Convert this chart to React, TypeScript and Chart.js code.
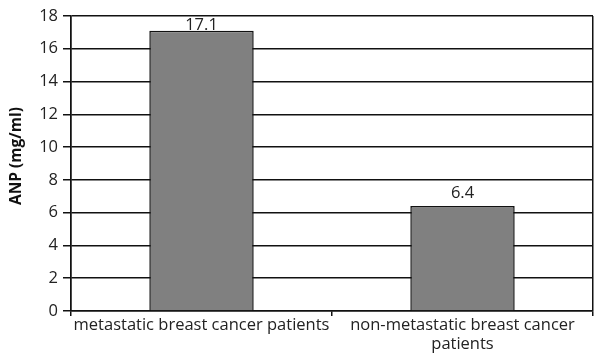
import React, { useEffect, useRef } from "react";
import { Chart, registerables } from "chart.js";

Chart.register(...registerables);

const categories: (string | string[])[] = [
  "metastatic breast cancer patients",
  ["non-metastatic breast cancer", "patients"],
];
const anpValues = [17.1, 6.4];
const yMin = 0;
const yMax = 18;
const yStep = 2;
const yTitle = "ANP (mg/ml)";

const FONT = "'Open Sans', sans-serif";

// Writes each bar's value above its top edge (kept inside the plot area),
// and the rotated y-axis title.
const annotations = {
  id: "annotations",
  afterDatasetsDraw(chart: any) {
    const { ctx, chartArea } = chart;
    const meta = chart.getDatasetMeta(0);
    ctx.save();
    ctx.font = `16.5px ${FONT}`;
    ctx.fillStyle = "#222";
    ctx.textAlign = "center";
    ctx.textBaseline = "alphabetic";
    meta.data.forEach((bar: any, i: number) => {
      const baseline = Math.max(bar.y - 8, chartArea.top + 14);
      ctx.fillText(String(chart.data.datasets[0].data[i]), bar.x, baseline);
    });
    ctx.restore();

    ctx.save();
    ctx.translate(17, 156);
    ctx.rotate(-Math.PI / 2);
    ctx.font = `bold 15.5px ${FONT}`;
    ctx.fillStyle = "#111";
    ctx.textAlign = "center";
    ctx.textBaseline = "middle";
    ctx.fillText(yTitle, 0, 0);
    ctx.restore();
  },
};

export default function App() {
  const canvasRef = useRef<HTMLCanvasElement | null>(null);

  useEffect(() => {
    document.body.style.margin = "0";
    const canvas = canvasRef.current;
    if (!canvas) return;
    const chart = new Chart(canvas, {
      type: "bar",
      data: {
        labels: categories,
        datasets: [
          {
            data: anpValues,
            backgroundColor: "#808080",
            borderColor: "#111",
            borderWidth: 1.5,
            barPercentage: 0.4,
            categoryPercentage: 1,
          },
        ],
      },
      options: {
        animation: false,
        responsive: false,
        devicePixelRatio: 1,
        layout: { padding: { top: 16, right: 10, left: 0, bottom: 0 } },
        plugins: {
          legend: { display: false },
          tooltip: { enabled: false },
        },
        scales: {
          x: {
            offset: true,
            grid: {
              offset: true,
              drawOnChartArea: true,
              color: (c: any) => (c.index === 1 ? "rgba(0,0,0,0)" : "#111"),
              tickColor: "#111",
              tickLength: 5,
              lineWidth: 1.5,
            },
            border: { display: true, color: "#111", width: 1.5 },
            ticks: {
              color: "#222",
              font: { family: FONT, size: 16.5, lineHeight: 1.15 },
              padding: 0,
              maxRotation: 0,
              autoSkip: false,
            },
            afterFit: (scale: any) => {
              scale.height = 50;
            },
          },
          y: {
            min: yMin,
            max: yMax,
            ticks: {
              stepSize: yStep,
              color: "#222",
              font: { family: FONT, size: 16.5 },
              padding: 5,
            },
            grid: {
              color: "#111",
              tickColor: "#111",
              tickLength: 8,
              lineWidth: 1.5,
            },
            border: { display: true, color: "#111", width: 1.5 },
            afterFit: (scale: any) => {
              scale.width = 71;
            },
          },
        },
      },
      plugins: [annotations],
    });
    return () => chart.destroy();
  }, []);

  return (
    <div style={{ width: 603, height: 361, background: "#fff" }}>
      <canvas ref={canvasRef} width={603} height={361} />
    </div>
  );
}
